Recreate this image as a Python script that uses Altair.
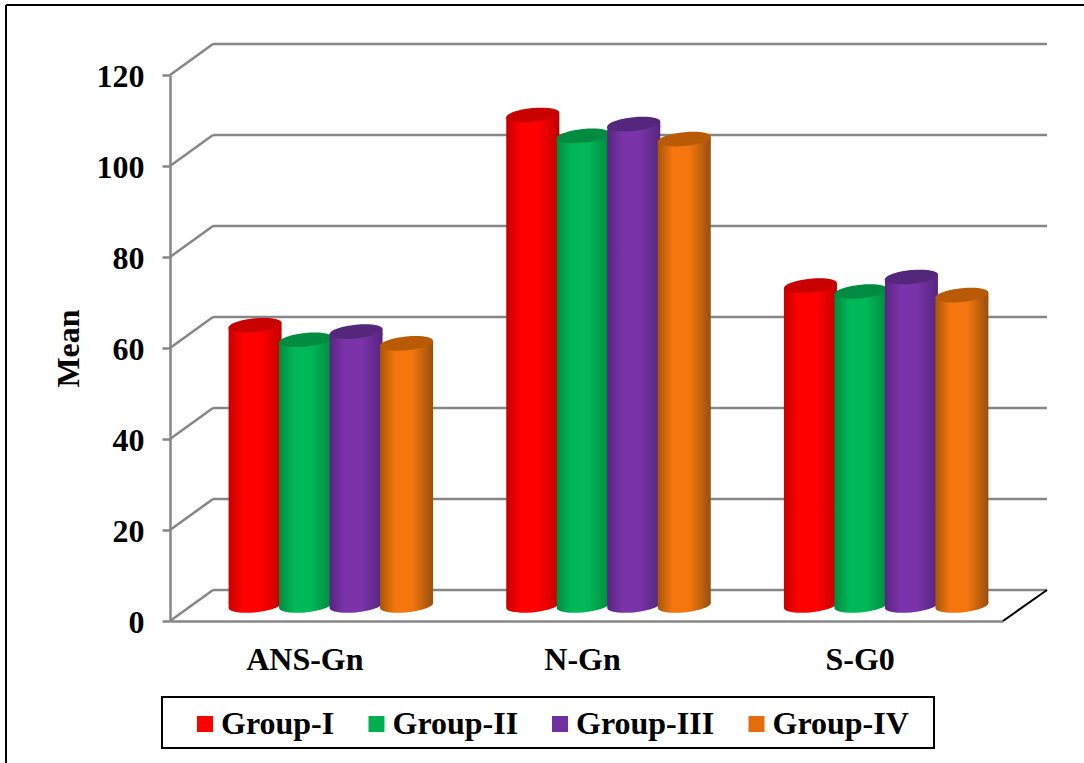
import altair as alt
import pandas as pd

# Measurements per landmark and study group
categories = ["ANS-Gn", "N-Gn", "S-G0"]
groups = ["Group-I", "Group-II", "Group-III", "Group-IV"]
group_i = [61.6, 107.8, 70.3]
group_ii = [58.4, 103.2, 69]
group_iii = [60.2, 105.8, 72.2]
group_iv = [57.6, 102.5, 68.2]
y_ticks = [0, 20, 40, 60, 80, 100, 120]

# Colour sets: legend swatch, cylinder edge left/right, cylinder centre, cap
swatches = ["#ff0000", "#00b050", "#7030a0", "#e46c0a"]
edge_left = ["#c80000", "#008a3e", "#572580", "#a85606"]
edge_right = ["#c40000", "#008a3e", "#572580", "#96500e"]
centres = ["#ff0000", "#00b858", "#7a33a8", "#f5760e"]
caps = ["#c80000", "#008c40", "#54267c", "#b85a06"]

FONT = "Liberation Serif"
FONT_SIZE = 32
GRAY = "#868686"
LINE_W = 2.5
DEPTH_X, DEPTH_Y = 43, 31
PLOT_W, PLOT_H = 833, 546
BAR_W = 53
SHEAR_PX = 2.5
SHEAR = SHEAR_PX / (BAR_W / 2)
B = 0.26
K = 0.5523


def fmt(v):
    return f"{v:.4f}"


def ellipse_arcs(s, b):
    """Segments of a sheared ellipse, clockwise from the right-hand extreme."""
    k = K
    return {
        "lower": [
            ((1, b * k - s), (k, b - s * k), (0, b)),
            ((-k, b + s * k), (-1, b * k + s), (-1, s)),
        ],
        "upper": [
            ((-1, -b * k + s), (-k, -b + s * k), (0, -b)),
            ((k, -b - s * k), (1, -b * k - s), (1, -s)),
        ],
    }


def curve(seg):
    return "C" + " ".join(f"{fmt(x)},{fmt(y)}" for x, y in seg)


arcs = ellipse_arcs(SHEAR, B)
ELLIPSE = (
    f"M1,{fmt(-SHEAR)}"
    + "".join(curve(c) for c in arcs["lower"] + arcs["upper"])
    + "Z"
)
BASE_CAP = (
    f"M-1,{fmt(-SHEAR - .04)}L1,{fmt(-SHEAR - .04)}L1,{fmt(-SHEAR)}"
    + "".join(curve(c) for c in arcs["lower"])
    + "Z"
)
SHOULDER = f"M-1,{fmt(SHEAR)}L1,{fmt(-SHEAR)}L1,{fmt(SHEAR + .04)}L-1,{fmt(SHEAR + .04)}Z"

rows = []
for g, vals in zip(groups, [group_i, group_ii, group_iii, group_iv]):
    for c, v in zip(categories, vals):
        rows.append({"category": c, "group": g, "value": v})
data = pd.DataFrame(rows)
ticks = pd.DataFrame({"tick": y_ticks})
one = pd.DataFrame({"k": [0]})

y_scale = alt.Scale(domain=[0, 120], range=[PLOT_H, 0])
x_enc = alt.X(
    "category:N",
    sort=categories,
    title=None,
    scale=alt.Scale(paddingInner=0, paddingOuter=0),
    axis=alt.Axis(
        labelFont=FONT, labelFontWeight="bold", labelFontSize=FONT_SIZE, labelColor="black",
        labelAngle=0, labelOffset=-4, labelPadding=23, ticks=False,
        domainColor=GRAY, domainWidth=LINE_W,
    ),
)
y_axis = alt.Axis(
    values=y_ticks, grid=False,
    domainColor=GRAY, domainWidth=LINE_W,
    tickColor=GRAY, tickWidth=LINE_W, tickSize=8,
    labelFont=FONT, labelFontWeight="bold", labelFontSize=FONT_SIZE, labelColor="black",
    labelPadding=18, labelOffset=1,
    title="Mean", titleFont=FONT, titleFontWeight="bold", titleFontSize=FONT_SIZE,
    titleColor="black", titlePadding=11,
)

# Back wall and side wall of the box
back_wall = alt.Chart(ticks).mark_rule(color=GRAY, strokeWidth=LINE_W, yOffset=-DEPTH_Y).encode(
    x=alt.value(DEPTH_X),
    x2=alt.value(PLOT_W + DEPTH_X + 1),
    y=alt.Y("tick:Q", scale=y_scale, axis=y_axis),
)
side_wall = alt.Chart(ticks).mark_rule(color=GRAY, strokeWidth=LINE_W, y2Offset=-DEPTH_Y).encode(
    x=alt.value(0),
    x2=alt.value(DEPTH_X),
    y=alt.Y("tick:Q", scale=y_scale, axis=y_axis),
    y2="tick:Q",
)
floor_edge = (
    alt.Chart(pd.DataFrame({"tick": [0]}))
    .mark_rule(color="black", strokeWidth=2, y2Offset=-DEPTH_Y)
    .encode(
        x=alt.value(PLOT_W),
        x2=alt.value(PLOT_W + DEPTH_X + 1),
        y=alt.Y("tick:Q", scale=y_scale, axis=y_axis),
        y2="tick:Q",
    )
)

# Invisible points that carry the colour legend
legend_layer = alt.Chart(data).mark_point(filled=True, opacity=0).encode(
    x=x_enc,
    y=alt.Y("value:Q", scale=y_scale, axis=y_axis),
    color=alt.Color(
        "group:N",
        sort=groups,
        scale=alt.Scale(domain=groups, range=swatches),
        legend=alt.Legend(
            orient="none", legendX=19, legendY=633, direction="horizontal",
            columns=4, title=None, symbolType="square", symbolSize=256,
            symbolOpacity=1, symbolStrokeWidth=0,
            labelFont=FONT, labelFontWeight="bold", labelFontSize=FONT_SIZE, labelColor="black",
            labelOffset=0, columnPadding=25.5, padding=0, labelLimit=300,
        ),
    ),
)

# One cylinder per value: shaded body, bottom rim and darker top cap
cylinders = []
for i, g in enumerate(groups):
    subset = data[data["group"] == g]
    shade = alt.Gradient(
        gradient="linear", x1=0, x2=1, y1=0, y2=0,
        stops=[
            alt.GradientStop(offset=0, color=edge_left[i]),
            alt.GradientStop(offset=0.28, color=centres[i]),
            alt.GradientStop(offset=0.6, color=centres[i]),
            alt.GradientStop(offset=1, color=edge_right[i]),
        ],
    )
    dx = DEPTH_X / 2 + 0.5 + (i - 1.5) * 50.5
    dy = -DEPTH_Y / 2
    base = alt.Chart(subset)
    point_y = alt.Y("value:Q", scale=y_scale, axis=y_axis)
    zero_y = alt.Y("zero:Q", scale=y_scale, axis=y_axis)
    body = base.mark_bar(
        fill=shade, width=BAR_W, xOffset=dx,
        yOffset=dy + SHEAR_PX, y2Offset=dy - SHEAR_PX,
    ).encode(x=x_enc, y=point_y, y2=alt.datum(0))
    bottom = base.transform_calculate(zero="0").mark_point(
        shape=BASE_CAP, filled=True, fill=shade, opacity=1, strokeWidth=0,
        size=BAR_W ** 2, xOffset=dx, yOffset=dy,
    ).encode(x=x_enc, y=zero_y)
    shoulder = base.mark_point(
        shape=SHOULDER, filled=True, fill=shade, opacity=1, strokeWidth=0,
        size=BAR_W ** 2, xOffset=dx, yOffset=dy,
    ).encode(x=x_enc, y=point_y)
    cap = base.mark_point(
        shape=ELLIPSE, filled=True, fill=caps[i], opacity=1, strokeWidth=0,
        size=BAR_W ** 2, xOffset=dx, yOffset=dy,
    ).encode(x=x_enc, y=point_y)
    cylinders += [body, bottom, shoulder, cap]

# Frame around the chart and box around the legend
frame_top = alt.Chart(one).mark_rule(color="black", strokeWidth=2).encode(
    x=alt.value(-164), x2=alt.value(914), y=alt.value(-70)
)
frame_left = alt.Chart(one).mark_rule(color="black", strokeWidth=2).encode(
    x=alt.value(-164), y=alt.value(-70), y2=alt.value(688)
)
legend_box = alt.Chart(one).mark_rect(fill="transparent", stroke="black", strokeWidth=2).encode(
    x=alt.value(-8), x2=alt.value(764), y=alt.value(622), y2=alt.value(673)
)

chart = alt.layer(
    back_wall, side_wall, floor_edge, legend_layer, *cylinders,
    frame_top, frame_left, legend_box,
).resolve_scale(y="shared", x="shared").properties(
    width=PLOT_W,
    height=PLOT_H,
    padding={"left": 170, "top": 75, "right": 81, "bottom": 142},
    autosize=alt.AutoSizeParams(type="none"),
    background="white",
).configure_view(stroke=None)

chart.save("out.html", embed_options={"renderer": "svg", "actions": False})
